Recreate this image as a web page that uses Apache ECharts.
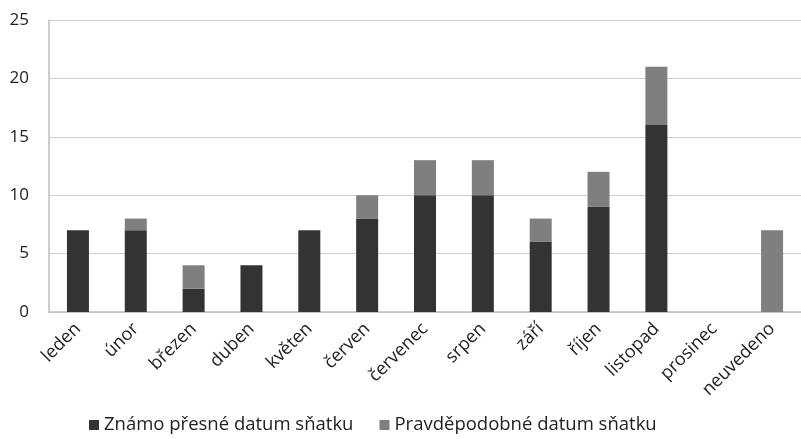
<!DOCTYPE html>
<html>
<head>
<meta charset="utf-8">
<script src="https://cdn.jsdelivr.net/npm/echarts@6/dist/echarts.min.js"></script>
<style>
  html, body { margin: 0; padding: 0; background: #ffffff; }
  #chart { width: 801px; height: 439px; }
</style>
</head>
<body>
<div id="chart"></div>
<script>
// Počty sňatků podle měsíce
const categories = ['leden', 'únor', 'březen', 'duben', 'květen', 'červen', 'červenec', 'srpen', 'září', 'říjen', 'listopad', 'prosinec', 'neuvedeno'];
const knownDate = [7, 7, 2, 4, 7, 8, 10, 10, 6, 9, 16, 0, 0];
const probableDate = [0, 1, 2, 0, 0, 2, 3, 3, 2, 3, 5, 0, 7];
const seriesNames = ['Známo přesné datum sňatku', 'Pravděpodobné datum sňatku'];

const FONT = 'Open Sans';
const chart = echarts.init(document.getElementById('chart'), null, { renderer: 'canvas' });

chart.setOption({
  animation: false,
  textStyle: { fontFamily: FONT },
  grid: { left: 49, right: -5, top: 20, bottom: 127, containLabel: false },
  legend: {
    top: 410,
    left: 84,
    padding: 5,
    itemWidth: 10,
    itemHeight: 10,
    itemGap: 26,
    icon: 'rect',
    textStyle: { fontFamily: FONT, fontSize: 18.5, color: '#222', lineHeight: 20 },
    data: seriesNames
  },
  xAxis: {
    type: 'category',
    data: categories,
    axisLine: { lineStyle: { color: '#bdbdbd', width: 1.5 } },
    axisTick: { show: false },
    axisLabel: {
      rotate: 45,
      fontFamily: FONT,
      fontSize: 18,
      color: '#222',
      margin: 14,
      interval: 0,
      hideOverlap: false
    }
  },
  yAxis: {
    type: 'value',
    min: 0,
    max: 25,
    interval: 5,
    axisLine: { show: true, lineStyle: { color: '#bdbdbd', width: 1.5 } },
    axisTick: { show: false },
    splitLine: { lineStyle: { color: '#cfcfcf', width: 1.2 } },
    axisLabel: { fontFamily: FONT, fontSize: 17, color: '#222', margin: 20 }
  },
  series: [
    {
      name: seriesNames[0],
      type: 'bar',
      stack: 'total',
      barWidth: 22,
      itemStyle: { color: '#333333' },
      data: knownDate
    },
    {
      name: seriesNames[1],
      type: 'bar',
      stack: 'total',
      barWidth: 22,
      itemStyle: { color: '#7f7f7f' },
      data: probableDate
    }
  ]
});
</script>
</body>
</html>
